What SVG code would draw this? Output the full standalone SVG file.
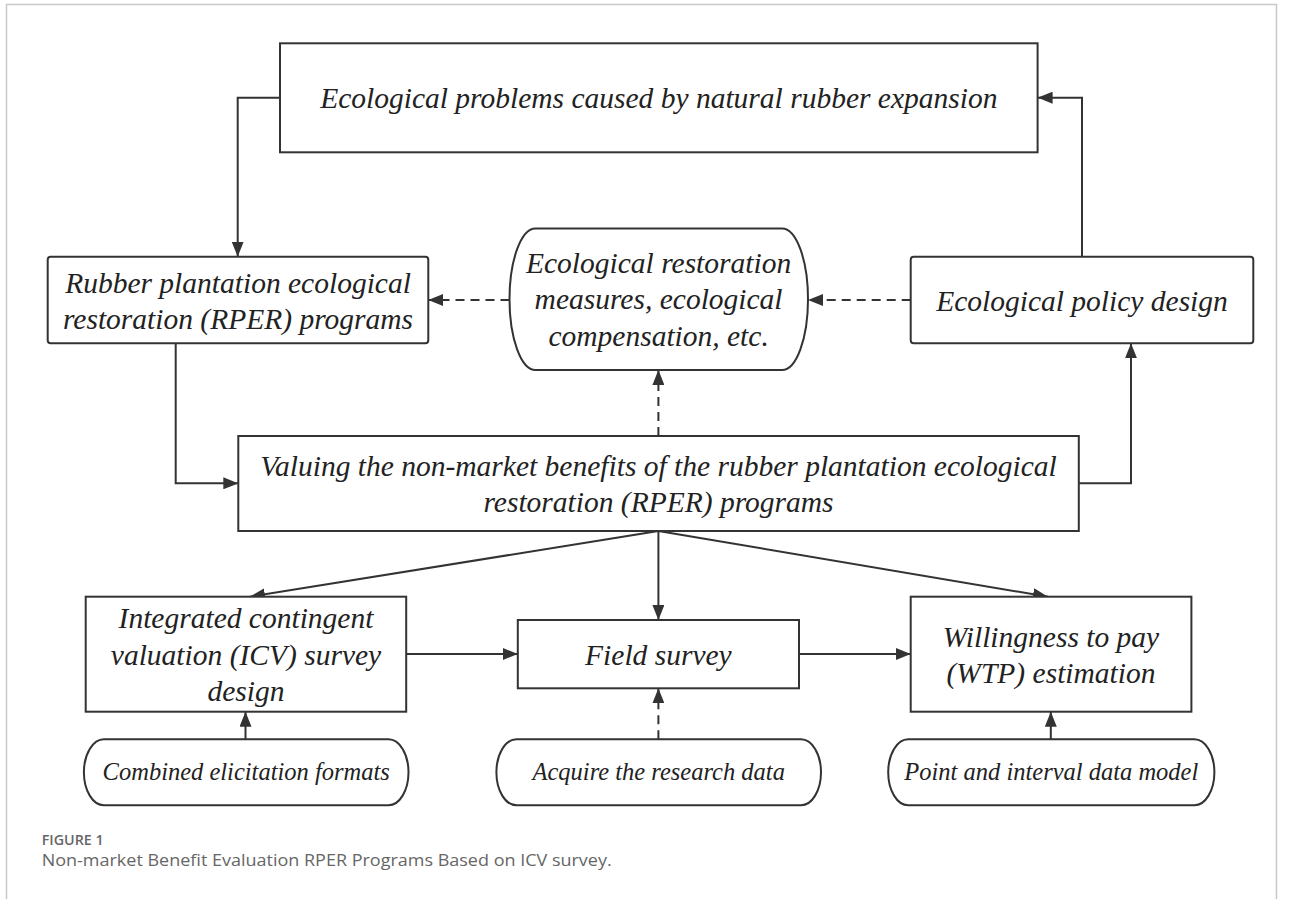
<svg xmlns="http://www.w3.org/2000/svg" width="1293" height="899" viewBox="0 0 1293 899">
<defs>
<style>
.bx{fill:#fff;stroke:#333;stroke-width:2}
.ln{fill:none;stroke:#333;stroke-width:2}
.ds{stroke-dasharray:9 6}
.t{font-family:"Liberation Serif","Times New Roman",serif;font-style:italic;font-size:29.5px;fill:#222;text-anchor:middle}
.s{font-size:24.5px}
.cap{font-family:"Open Sans","Noto Sans",sans-serif;fill:#666}
</style>
<marker id="ah" markerUnits="userSpaceOnUse" markerWidth="15" markerHeight="12" refX="15" refY="6" orient="auto">
<path d="M0,0 L15,6 L0,12 z" fill="#333"/>
</marker>
</defs>
<rect width="1293" height="899" fill="#fff"/>
<path d="M6.5,899 V4.5 H1276.5 V899" fill="none" stroke="#c8c8c8" stroke-width="1.5"/>

<g id="connectors">
<path class="ln" d="M280,97.7 H237.7 V256.7" marker-end="url(#ah)"/>
<path class="ln" d="M1082,256.7 V97.7 H1037.6" marker-end="url(#ah)"/>
<path class="ln" d="M175.7,343.3 V483.3 H238.3" marker-end="url(#ah)"/>
<path class="ln" d="M1078.8,483.3 H1131 V343.3" marker-end="url(#ah)"/>
<path class="ln ds" d="M509.5,300 H428.3" marker-end="url(#ah)"/>
<path class="ln ds" d="M910.7,300 H808" marker-end="url(#ah)"/>
<path class="ln ds" d="M658.4,436 V370" marker-end="url(#ah)"/>
<path class="ln" d="M658.4,531 L250,596.7" marker-end="url(#ah)"/>
<path class="ln" d="M658.4,531 V620" marker-end="url(#ah)"/>
<path class="ln" d="M658.4,531 L1048,596.7" marker-end="url(#ah)"/>
<path class="ln" d="M406.2,654 H517.8" marker-end="url(#ah)"/>
<path class="ln" d="M799,654 H910.7" marker-end="url(#ah)"/>
<path class="ln" d="M245.5,739.3 V711.7" marker-end="url(#ah)"/>
<path class="ln ds" d="M658.4,739.3 V688.3" marker-end="url(#ah)"/>
<path class="ln" d="M1050.8,739.3 V711.7" marker-end="url(#ah)"/>
</g>

<g id="n-problems">
<rect class="bx" x="280" y="43.3" width="757.6" height="109"/>
<text class="t" x="658.8" y="108">Ecological problems caused by natural rubber expansion</text>
</g>
<g id="n-rper">
<rect class="bx" x="47.7" y="256.7" width="380.6" height="86.6" rx="3"/>
<text class="t" x="238" y="292.5">Rubber plantation ecological</text>
<text class="t" x="238" y="328.5">restoration (RPER) programs</text>
</g>
<g id="n-measures">
<rect class="bx" x="509.5" y="228.5" width="298.5" height="141.5" rx="26" ry="70.7"/>
<text class="t" x="658.6" y="272.5">Ecological restoration</text>
<text class="t" x="658.6" y="309">measures, ecological</text>
<text class="t" x="658.6" y="345.5">compensation, etc.</text>
</g>
<g id="n-policy">
<rect class="bx" x="910.7" y="256.7" width="342.6" height="86.6" rx="3"/>
<text class="t" x="1082" y="310.5">Ecological policy design</text>
</g>
<g id="n-valuing">
<rect class="bx" x="238.3" y="436" width="840.5" height="95"/>
<text class="t" x="658.5" y="475.5">Valuing the non-market benefits of the rubber plantation ecological</text>
<text class="t" x="658.5" y="512">restoration (RPER) programs</text>
</g>
<g id="n-icv">
<rect class="bx" x="85.7" y="596.7" width="320.5" height="115"/>
<text class="t" x="246" y="628">Integrated contingent</text>
<text class="t" x="246" y="664.5">valuation (ICV) survey</text>
<text class="t" x="246" y="701">design</text>
</g>
<g id="n-field">
<rect class="bx" x="517.8" y="620" width="281.2" height="68.3"/>
<text class="t" x="658.4" y="664.5">Field survey</text>
</g>
<g id="n-wtp">
<rect class="bx" x="910.7" y="596.7" width="280.7" height="115"/>
<text class="t" x="1051" y="646.5">Willingness to pay</text>
<text class="t" x="1051" y="683">(WTP) estimation</text>
</g>
<g id="n-combined">
<rect class="bx" x="83.9" y="739.3" width="324.6" height="66" rx="20" ry="33"/>
<text class="t s" x="246.2" y="780">Combined elicitation formats</text>
</g>
<g id="n-acquire">
<rect class="bx" x="496.4" y="739.3" width="324.6" height="66" rx="20" ry="33"/>
<text class="t s" x="658.7" y="780">Acquire the research data</text>
</g>
<g id="n-point">
<rect class="bx" x="888.2" y="739.3" width="326.2" height="66" rx="20" ry="33"/>
<text class="t s" x="1051.3" y="780">Point and interval data model</text>
</g>

<text class="cap" x="41.7" y="845" font-size="15" font-weight="600" fill="#555" textLength="62" lengthAdjust="spacingAndGlyphs">FIGURE 1</text>
<text class="cap" x="41.7" y="866" font-size="17" textLength="570" lengthAdjust="spacingAndGlyphs">Non-market Benefit Evaluation RPER Programs Based on ICV survey.</text>
</svg>
